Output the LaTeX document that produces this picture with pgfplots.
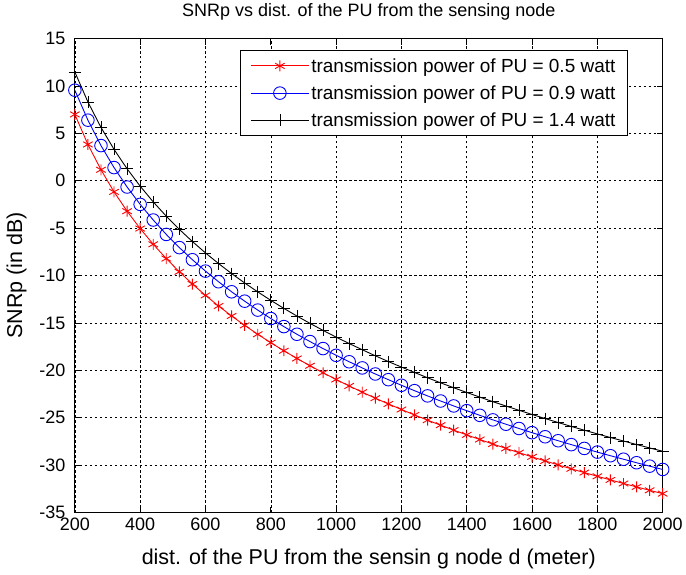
\documentclass[border=0pt]{standalone}
\usepackage{pgfplots}
\pgfplotsset{compat=1.18}
\usepackage{fontspec}
\setmainfont{Liberation Sans}
\begin{document}
\begin{tikzpicture}
\path (0pt,0pt) rectangle (686pt,573pt);
\begin{axis}[
  at={(75pt,62pt)}, anchor=south west,
  width=589pt, height=475pt, scale only axis,
  xmin=200, xmax=2000, ymin=-35, ymax=15,
  xtick={200,400,...,2000}, ytick={-35,-30,...,15},
  /pgf/number format/assume math mode=true,
  /pgf/number format/1000 sep={},
  tick label style={font=\fontsize{18}{21}\selectfont},
  xticklabel style={yshift=-2pt},
  yticklabel style={xshift=-6pt},
  grid=major,
  major grid style={black, dash pattern=on 2.5pt off 2.5pt, line width=0.6pt},
  axis line style={black, line width=1pt},
  tick style={black, line width=0.8pt},
  tick align=inside, major tick length=6pt,
  title={SNRp vs dist. of the PU from the sensing node},
  title style={font=\fontsize{18}{21}\selectfont, at={(axis description cs:0.5,1.044)}, anchor=center},
  xlabel={dist. of the PU from the sensin g node d (meter)},
  ylabel={SNRp (in dB)},
  label style={font=\fontsize{21.5}{25}\selectfont},
  xlabel style={at={(axis description cs:0.5,-0.097)}, anchor=center},
  ylabel style={at={(axis description cs:-0.099,0.5)}, anchor=center},
  legend style={at={(0.9406,0.975)}, anchor=north east, draw=black, line width=0.8pt,
    font=\fontsize{19}{22}\selectfont, row sep=7pt, inner xsep=10pt, inner ysep=5pt,
    nodes={inner ysep=2.5pt}},
  legend cell align=left,
  legend image post style={line width=1pt},
  legend image code/.code={\draw[mark repeat=2,mark phase=2] plot coordinates {(0pt,0pt) (29pt,0pt) (58pt,0pt)};},
]
\addplot[red, line width=0.9pt, mark=asterisk, mark size=5.5pt, mark options={line width=0.9pt}] coordinates {
(200,7.00)(240,3.83)(280,1.16)(320,-1.17)(360,-3.21)(400,-5.04)(440,-6.70)(480,-8.21)(520,-9.60)(560,-10.89)
(600,-12.09)(640,-13.21)(680,-14.26)(720,-15.25)(760,-16.19)(800,-17.08)(840,-17.93)(880,-18.74)(920,-19.51)(960,-20.25)
(1000,-20.96)(1040,-21.64)(1080,-22.30)(1120,-22.93)(1160,-23.54)(1200,-24.13)(1240,-24.70)(1280,-25.25)(1320,-25.78)(1360,-26.30)
(1400,-26.80)(1440,-27.29)(1480,-27.77)(1520,-28.23)(1560,-28.68)(1600,-29.12)(1640,-29.55)(1680,-29.97)(1720,-30.38)(1760,-30.78)
(1800,-31.17)(1840,-31.55)(1880,-31.93)(1920,-32.29)(1960,-32.65)(2000,-33.00)};
\addlegendentry{transmission power of PU = 0.5 watt}
\addplot[blue, line width=0.9pt, mark=o, mark size=6.3pt, mark options={line width=0.9pt}] coordinates {
(200,9.55)(240,6.39)(280,3.71)(320,1.39)(360,-0.66)(400,-2.49)(440,-4.14)(480,-5.66)(520,-7.05)(560,-8.33)
(600,-9.53)(640,-10.65)(680,-11.71)(720,-12.70)(760,-13.64)(800,-14.53)(840,-15.38)(880,-16.19)(920,-16.96)(960,-17.70)
(1000,-18.41)(1040,-19.09)(1080,-19.74)(1120,-20.38)(1160,-20.98)(1200,-21.57)(1240,-22.14)(1280,-22.69)(1320,-23.23)(1360,-23.75)
(1400,-24.25)(1440,-24.74)(1480,-25.22)(1520,-25.68)(1560,-26.13)(1600,-26.57)(1640,-27.00)(1680,-27.42)(1720,-27.83)(1760,-28.23)
(1800,-28.62)(1840,-29.00)(1880,-29.37)(1920,-29.74)(1960,-30.10)(2000,-30.45)};
\addlegendentry{transmission power of PU = 0.9 watt}
\addplot[black, line width=0.9pt, mark=+, mark size=6pt, mark options={line width=0.8pt}] coordinates {
(200,11.47)(240,8.31)(280,5.63)(320,3.31)(360,1.26)(400,-0.57)(440,-2.23)(480,-3.74)(520,-5.13)(560,-6.41)
(600,-7.61)(640,-8.73)(680,-9.79)(720,-10.78)(760,-11.72)(800,-12.61)(840,-13.46)(880,-14.27)(920,-15.04)(960,-15.78)
(1000,-16.49)(1040,-17.17)(1080,-17.82)(1120,-18.46)(1160,-19.07)(1200,-19.65)(1240,-20.22)(1280,-20.78)(1320,-21.31)(1360,-21.83)
(1400,-22.33)(1440,-22.82)(1480,-23.30)(1520,-23.76)(1560,-24.21)(1600,-24.65)(1640,-25.08)(1680,-25.50)(1720,-25.91)(1760,-26.31)
(1800,-26.70)(1840,-27.08)(1880,-27.45)(1920,-27.82)(1960,-28.18)(2000,-28.53)};
\addlegendentry{transmission power of PU = 1.4 watt}
\end{axis}
\end{tikzpicture}
\end{document}
